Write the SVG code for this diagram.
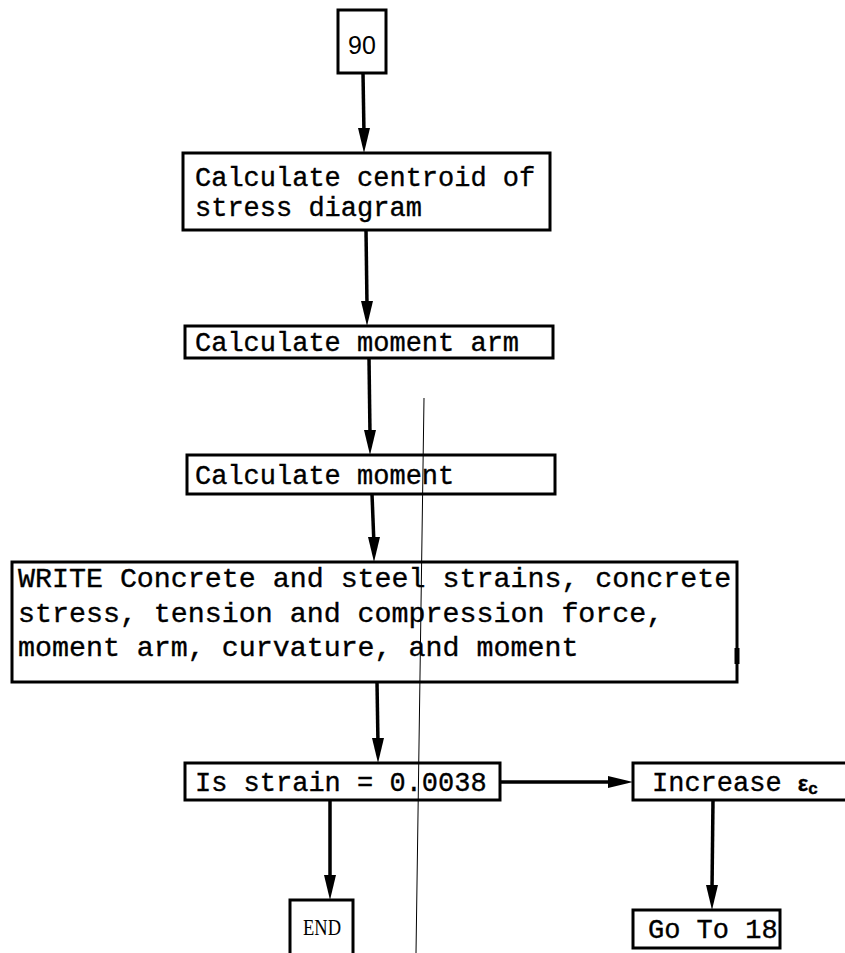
<svg xmlns="http://www.w3.org/2000/svg" width="845" height="953" viewBox="0 0 845 953">
<style>
.box{fill:#fff;stroke:#000;stroke-width:3}
.t{font-family:"Liberation Mono","Courier New",monospace;font-size:27px;fill:#000;stroke:#000;stroke-width:0.35}
.w{font-size:28.3px}
.c{stroke:#000;stroke-width:3.5;fill:none}
.ah{fill:#000}
</style>
<rect width="845" height="953" fill="#fff"/>
<g id="connectors">
<line class="c" x1="363" y1="73" x2="364" y2="135"/>
<polygon class="ah" points="358,128 370,128 364,153"/>
<line class="c" x1="366" y1="230" x2="367" y2="305"/>
<polygon class="ah" points="361,301 373,301 367,326"/>
<line class="c" x1="369" y1="358" x2="370" y2="435"/>
<polygon class="ah" points="364,430 376,430 370,455"/>
<line class="c" x1="372" y1="494" x2="374" y2="545"/>
<polygon class="ah" points="368,537 380,537 374,562"/>
<line class="c" x1="377" y1="682" x2="378" y2="745"/>
<polygon class="ah" points="372,738 384,738 378,763"/>
<line class="c" x1="330" y1="800" x2="330" y2="880"/>
<polygon class="ah" points="324,875 336,875 330,900"/>
<line class="c" x1="500" y1="782" x2="615" y2="782"/>
<polygon class="ah" points="608,776 608,788 633,782"/>
<line class="c" x1="713" y1="800" x2="712" y2="890"/>
<polygon class="ah" points="706,885 718,885 712,910"/>
</g>
<g id="n90">
<rect class="box" x="338" y="10" width="48" height="63"/>
<text x="362" y="54" text-anchor="middle" style="font-family:'Liberation Sans',Arial,sans-serif;font-size:25px">90</text>
</g>
<g id="centroid">
<rect class="box" x="183" y="153" width="367" height="77"/>
<text class="t" x="195" y="186">Calculate centroid of</text>
<text class="t" x="195" y="216">stress diagram</text>
</g>
<g id="momentarm">
<rect class="box" x="185" y="326" width="368" height="32"/>
<text class="t" x="195" y="351">Calculate moment arm</text>
</g>
<g id="moment">
<rect class="box" x="187" y="455" width="368" height="39"/>
<text class="t" x="195" y="484">Calculate moment</text>
</g>
<g id="write">
<rect class="box" x="12" y="562" width="725" height="120"/>
<text class="t w" x="18" y="587">WRITE Concrete and steel strains, concrete</text>
<text class="t w" x="18" y="622">stress, tension and compression force,</text>
<text class="t w" x="18" y="656">moment arm, curvature, and moment</text>
<line x1="737" y1="648" x2="737" y2="664" stroke="#000" stroke-width="5"/>
</g>
<g id="isstrain">
<rect class="box" x="185" y="763" width="315" height="37"/>
<text class="t" x="195" y="791">Is strain = 0.0038</text>
</g>
<g id="increase">
<rect class="box" x="633" y="763" width="215" height="37"/>
<text class="t" x="652" y="791">Increase <tspan style="font-family:'Liberation Sans',Arial,sans-serif;font-weight:bold;font-size:22px">ε</tspan><tspan dy="3" style="font-family:'Liberation Sans',Arial,sans-serif;font-weight:bold;font-size:17px">c</tspan></text>
</g>
<g id="end">
<rect class="box" x="290" y="900" width="63" height="60"/>
<text x="322" y="935" text-anchor="middle" style="font-family:'Liberation Serif','Times New Roman',serif;font-size:24px" textLength="38" lengthAdjust="spacingAndGlyphs">END</text>
</g>
<g id="goto">
<rect class="box" x="633" y="910" width="147" height="38"/>
<text class="t" x="648" y="938">Go To 18</text>
</g>
<line x1="424" y1="398" x2="416" y2="953" stroke="#000" stroke-width="1"/>
</svg>
